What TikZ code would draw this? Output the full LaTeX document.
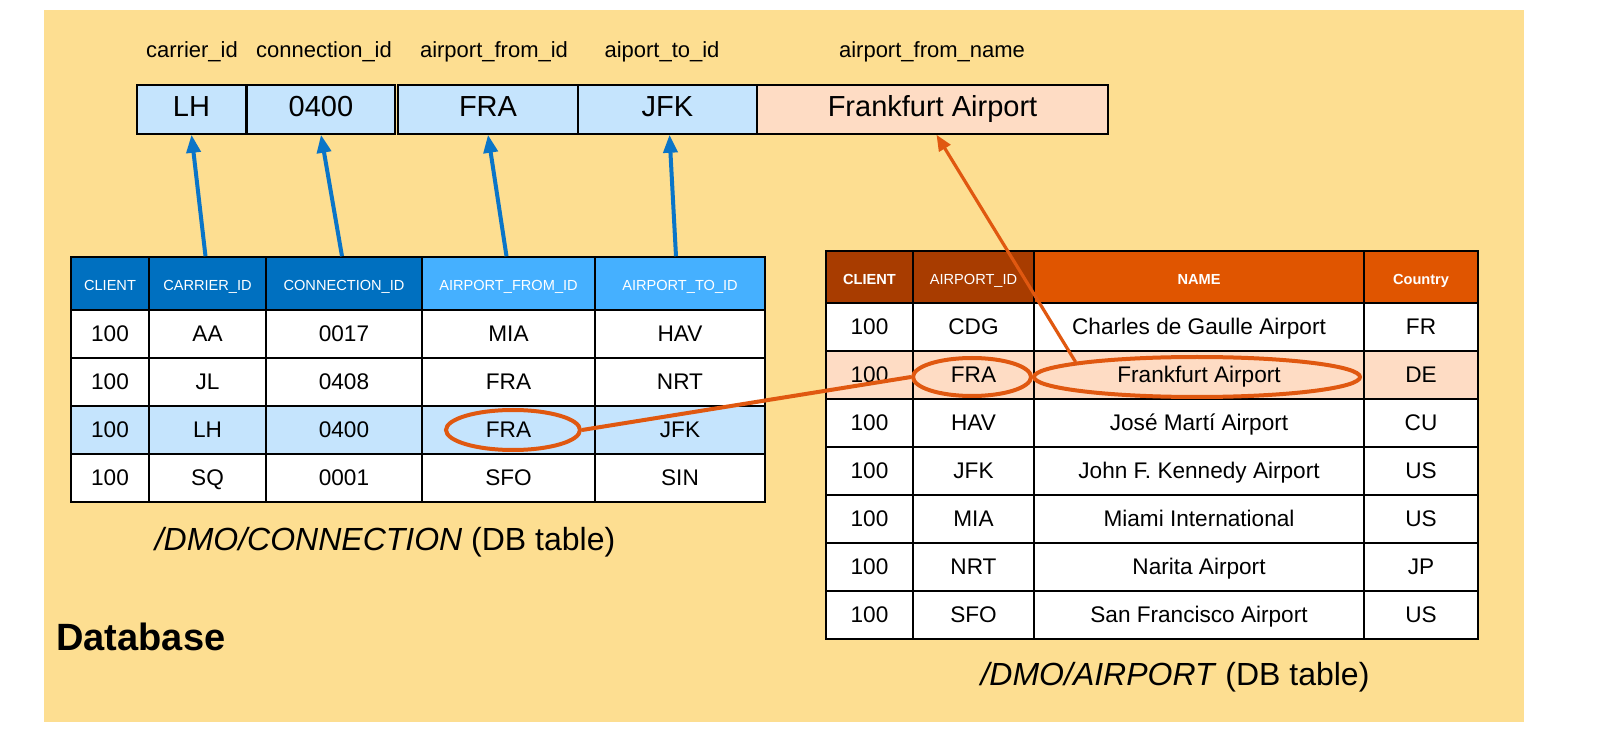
\documentclass[tikz,border=0pt]{standalone}
\usepackage{fontspec}
\setmainfont{Liberation Sans}
\usetikzlibrary{shapes.geometric,arrows.meta}
\definecolor{bgyel}{RGB}{253,222,145}
\definecolor{ltblue}{RGB}{197,228,253}
\definecolor{peach}{RGB}{254,220,196}
\definecolor{hdrdark}{RGB}{0,112,192}
\definecolor{hdrlight}{RGB}{69,176,255}
\definecolor{hdrbrown}{RGB}{168,60,0}
\definecolor{hdrorange}{RGB}{224,85,0}
\definecolor{linorange}{RGB}{224,88,16}
\definecolor{arrblue}{RGB}{10,117,200}
\tikzset{
  cellbox/.style={draw=black, line width=0.75pt, inner sep=0pt, fill=white,
    text height=0.716em, text depth=0pt,
    font=\fontsize{11.3}{13}\selectfont},
  topbox/.style={cellbox, font=\fontsize{14.5}{17}\selectfont},
  hdr/.style={cellbox, text=white, font=\fontsize{7.3}{9}\selectfont},
  hdrb/.style={hdr, font=\fontsize{7.3}{9}\selectfont\bfseries},
  toplabel/.style={font=\fontsize{11}{13}\selectfont, inner sep=0pt,
    text height=0.716em, text depth=0pt},
  caption/.style={font=\fontsize{16}{19}\selectfont, inner sep=0pt,
    text height=0.716em, text depth=0pt},
  ring/.style={ellipse, draw=linorange, line width=2pt, inner sep=0pt},
  bluearrow/.style={draw=arrblue, line width=2pt, -{Triangle[length=9pt,width=7pt]}},
  orangearrow/.style={draw=linorange, line width=1.6pt, -{Triangle[length=8pt,width=6.5pt]}},
  orangeline/.style={draw=linorange, line width=2pt}
}
\newcommand\mycell[7][]{%
  \pgfmathsetmacro\mycw{(#5-#3)*0.5}%
  \pgfmathsetmacro\mych{(#6-#4)*0.5}%
  \node[cellbox,#1,minimum width=\mycw pt,minimum height=\mych pt] (#2)
    at ({(#3+#5)/2},{(#4+#6)/2}) {#7};}
\newcommand\lrow[9]{%
  \mycell[fill=#4]{l#1a}{71}{#2}{149}{#3}{#5}
  \mycell[fill=#4]{l#1b}{149}{#2}{266}{#3}{#6}
  \mycell[fill=#4]{l#1c}{266}{#2}{422}{#3}{#7}
  \mycell[fill=#4]{l#1d}{422}{#2}{595}{#3}{#8}
  \mycell[fill=#4]{l#1e}{595}{#2}{765}{#3}{#9}}
\newcommand\rrow[8]{%
  \mycell[fill=#4]{r#1a}{826}{#2}{913}{#3}{#5}
  \mycell[fill=#4]{r#1b}{913}{#2}{1034}{#3}{#6}
  \mycell[fill=#4]{r#1c}{1034}{#2}{1364}{#3}{#7}
  \mycell[fill=#4]{r#1d}{1364}{#2}{1478}{#3}{#8}}
\begin{document}
\begin{tikzpicture}[x=0.5pt,y=-0.5pt]
\useasboundingbox (0,0) rectangle (1600,748);
\fill[white] (0,0) rectangle (1600,748);
\fill[bgyel] (44,10) rectangle (1524,722);

% top labels
\node[toplabel] (tl1) at (192,50) {carrier\_id};
\node[toplabel] (tl2) at (324,50) {connection\_id};
\node[toplabel] (tl3) at (494,50) {airport\_from\_id};
\node[toplabel] (tl4) at (662,50) {aiport\_to\_id};
\node[toplabel] (tl5) at (932,50) {airport\_from\_name};

% top structure
\mycell[topbox,fill=ltblue]{lh}{137}{85}{246}{134}{LH}
\mycell[topbox,fill=ltblue]{cn}{247}{85}{395}{134}{0400}
\mycell[topbox,fill=ltblue]{fr}{398}{85}{578}{134}{FRA}
\mycell[topbox,fill=ltblue]{jf}{578}{85}{757}{134}{JFK}
\mycell[topbox,fill=peach]{fa}{757}{85}{1108}{134}{Frankfurt Airport}

% left table
\mycell[hdr,fill=hdrdark]{lha}{71}{257}{149}{310}{CLIENT}
\mycell[hdr,fill=hdrdark]{lhb}{149}{257}{266}{310}{CARRIER\_ID}
\mycell[hdr,fill=hdrdark]{lhc}{266}{257}{422}{310}{CONNECTION\_ID}
\mycell[hdr,fill=hdrlight]{lhd}{422}{257}{595}{310}{AIRPORT\_FROM\_ID}
\mycell[hdr,fill=hdrlight]{lhe}{595}{257}{765}{310}{AIRPORT\_TO\_ID}
\lrow{1}{310}{358}{white}{100}{AA}{0017}{MIA}{HAV}
\lrow{2}{358}{406}{white}{100}{JL}{0408}{FRA}{NRT}
\lrow{3}{406}{454}{ltblue}{100}{LH}{0400}{FRA}{JFK}
\lrow{4}{454}{502}{white}{100}{SQ}{0001}{SFO}{SIN}
\node[caption] (capL) at (385,543) {\textit{/DMO/CONNECTION} (DB table)};

% right table
\mycell[hdrb,fill=hdrbrown]{rha}{826}{251}{913}{303}{CLIENT}
\mycell[hdr,fill=hdrbrown]{rhb}{913}{251}{1034}{303}{AIRPORT\_ID}
\mycell[hdrb,fill=hdrorange]{rhc}{1034}{251}{1364}{303}{NAME}
\mycell[hdrb,fill=hdrorange]{rhd}{1364}{251}{1478}{303}{Country}
\rrow{1}{303}{351}{white}{100}{CDG}{Charles de Gaulle Airport}{FR}
\rrow{2}{351}{399}{peach}{100}{FRA}{Frankfurt Airport}{DE}
\rrow{3}{399}{447}{white}{100}{HAV}{José Martí Airport}{CU}
\rrow{4}{447}{495}{white}{100}{JFK}{John F. Kennedy Airport}{US}
\rrow{5}{495}{543}{white}{100}{MIA}{Miami International}{US}
\rrow{6}{543}{591}{white}{100}{NRT}{Narita Airport}{JP}
\rrow{7}{591}{639}{white}{100}{SFO}{San Francisco Airport}{US}
\node[caption] (capR) at (1175,678) {\textit{/DMO/AIRPORT} (DB table)};

\node[anchor=west, inner sep=0pt, font=\fontsize{19}{22}\selectfont\bfseries,
  text height=0.716em, text depth=0pt] (db) at (56,643) {Database};

% blue arrows
\draw[bluearrow] ([xshift=-1pt]lhb.north) -- (lh.south);
\draw[bluearrow] ([xshift=-1pt]lhc.north) -- (cn.south);
\draw[bluearrow] ([xshift=-1pt]lhd.north) -- (fr.south);
\draw[bluearrow] ([xshift=-2pt]lhe.north) -- ([xshift=1pt]jf.south);

% orange rings and connectors
\node[ring, minimum width=67pt, minimum height=20pt] (eL) at (513,430) {};
\node[ring, minimum width=59pt, minimum height=19pt] (eR) at (972,377) {};
\node[ring, minimum width=163pt, minimum height=20pt] (eN) at (1197,377) {};
\draw[orangeline] (eL.east) -- (eR.west);
\draw[orangearrow] (eN.173) -- ([xshift=2pt]fa.south);
\end{tikzpicture}
\end{document}
